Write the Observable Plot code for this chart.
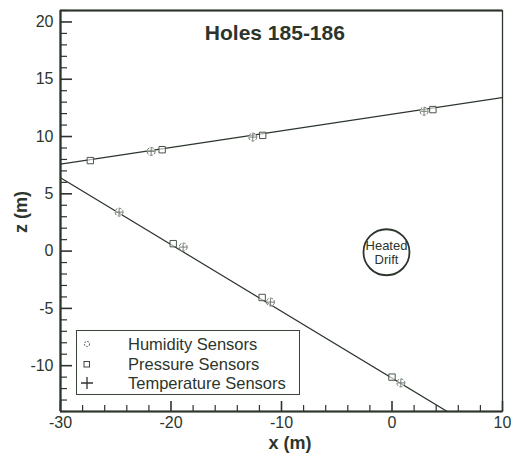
<!DOCTYPE html>
<html>
<head>
<meta charset="utf-8">
<script src="https://cdn.jsdelivr.net/npm/d3@7"></script>
<script src="https://cdn.jsdelivr.net/npm/@observablehq/plot@0.6"></script>
<style>
  html, body { margin: 0; padding: 0; background: #fff; }
  #wrap { position: relative; width: 511px; height: 457px; font-family: "Liberation Sans", Arial, Helvetica, sans-serif; color: #2c352c; }
  #wrap svg { position: absolute; left: 0; top: 0; }
  .lbl { position: absolute; font-weight: bold; font-size: 18px; white-space: nowrap; }
  #legend { position: absolute; left: 76px; top: 330px; width: 224px; height: 65px; border: 1px solid #3a453a; box-sizing: border-box; }
  .row { position: absolute; left: 0; height: 20px; width: 100%; }
  .row span { position: absolute; left: 51px; top: 0; font-size: 16.5px; line-height: 20px; }
  .row svg { position: absolute; left: 12px; top: 0; }
</style>
</head>
<body>
<div id="wrap"></div>
<script>
// ---- data ----
const xTicks = [-30, -20, -10, 0, 10];
const xMinor = [-28, -26, -24, -22, -18, -16, -14, -12, -8, -6, -4, -2, 2, 4, 6, 8];
const yTicks = [-10, -5, 0, 5, 10, 15, 20];
const yMinor = [-14, -13, -12, -11, -9, -8, -7, -6, -4, -3, -2, -1, 1, 2, 3, 4, 6, 7, 8, 9, 11, 12, 13, 14, 16, 17, 18, 19, 21];

// upper borehole line (x, z)
const upperLineX = [-30, 10];
const upperLineZ = [7.6, 13.4];
// lower borehole line
const lowerLineX = [-30, 5.0];
const lowerLineZ = [6.4, -14];

// sensors
const humidityX = [-21.8, -12.6, 2.9, -24.7, -18.9, -11.0, 0.8];
const humidityZ = [8.7, 9.95, 12.2, 3.4, 0.35, -4.45, -11.5];
const pressureX = [-27.3, -20.8, -11.7, 3.7, -19.8, -11.75, 0.0];
const pressureZ = [7.9, 8.85, 10.1, 12.35, 0.65, -4.05, -11.0];
const temperatureX = humidityX;
const temperatureZ = humidityZ;

const driftX = [-0.5];
const driftZ = [-0.1];
const driftLabel = ["Heated\nDrift"];

const titleText = "Holes 185-186";
const titleX = -10.6, titleZ = 19.0;

const legendLabels = ["Humidity Sensors", "Pressure Sensors", "Temperature Sensors"];

// ---- build ----
const ink = "#2c352c";
const toPts = (xs, zs) => xs.map((x, i) => ({x, z: zs[i]}));
const upper = toPts(upperLineX, upperLineZ);
const lower = toPts(lowerLineX, lowerLineZ);
const hum = toPts(humidityX, humidityZ);
const pres = toPts(pressureX, pressureZ);
const temp = toPts(temperatureX, temperatureZ);
const drift = driftX.map((x, i) => ({x, z: driftZ[i], t: driftLabel[i]}));
const fmt = d => String(d);

const chart = Plot.plot({
  width: 511,
  height: 457,
  marginLeft: 60,
  marginRight: 9,
  marginTop: 10,
  marginBottom: 46,
  style: {fontFamily: '"Liberation Sans", Arial, sans-serif', color: ink, background: "transparent", overflow: "visible"},
  x: {domain: [-30, 10]},
  y: {domain: [-14, 21]},
  marks: [
    Plot.frame({stroke: ink, strokeWidth: 1.3}),
    Plot.ruleX([-30], {stroke: ink, strokeWidth: 2.2}),
    Plot.ruleY([-14], {stroke: ink, strokeWidth: 2.2}),
    Plot.ruleY([21], {stroke: ink, strokeWidth: 2}),
    // ticks (inward)
    Plot.axisY({ticks: yTicks, tickSize: -12, fill: "none", stroke: ink, strokeWidth: 1.6, label: null}),
    Plot.axisY({ticks: yMinor, tickSize: -7, fill: "none", stroke: ink, strokeWidth: 1.2, label: null}),
    Plot.axisY({ticks: yTicks, tickSize: 0, tickPadding: 7, tickFormat: fmt, stroke: "none", fill: ink, fontSize: 16, label: null}),
    Plot.axisX({ticks: xTicks, tickSize: -10, fill: "none", stroke: ink, strokeWidth: 1.6, label: null}),
    Plot.axisX({ticks: xMinor, tickSize: -6, fill: "none", stroke: ink, strokeWidth: 1.2, label: null}),
    Plot.axisX({ticks: xTicks, tickSize: 0, tickPadding: 5, tickFormat: fmt, stroke: "none", fill: ink, fontSize: 16, label: null}),
    // borehole lines
    Plot.line(upper, {x: "x", y: "z", stroke: ink, strokeWidth: 1.3, clip: true}),
    Plot.line(lower, {x: "x", y: "z", stroke: ink, strokeWidth: 1.3, clip: true}),
    // sensors
    Plot.dot(hum, {x: "x", y: "z", symbol: "circle", r: 4, stroke: "#6a736a", strokeWidth: 1, fill: "white", fillOpacity: 0.6, strokeDasharray: "3,1.5"}),
    Plot.dot(temp, {x: "x", y: "z", symbol: "plus", r: 2.5, stroke: "#6a736a", strokeWidth: 0.9}),
    Plot.dot(pres, {x: "x", y: "z", symbol: "square", r: 3.6, stroke: "#4a544a", strokeWidth: 1, fill: "white", fillOpacity: 0.6}),
    // heated drift
    Plot.dot(drift, {x: "x", y: "z", r: 23, stroke: ink, strokeWidth: 1.8}),
    Plot.text(drift, {x: "x", y: "z", text: "t", fontSize: 13, lineHeight: 1.15, fill: ink}),
    // title
    Plot.text([titleText], {x: () => titleX, y: () => titleZ, text: d => d, fontSize: 21, fontWeight: "bold", fill: ink})
  ]
});

const wrap = document.getElementById("wrap");
wrap.appendChild(chart);

// axis labels
const xl = document.createElement("div");
xl.className = "lbl"; xl.textContent = "x (m)";
xl.style.left = "290px"; xl.style.top = "443px"; xl.style.transform = "translate(-50%,-50%)";
wrap.appendChild(xl);
const yl = document.createElement("div");
yl.className = "lbl"; yl.textContent = "z (m)";
yl.style.left = "21px"; yl.style.top = "212px"; yl.style.transform = "translate(-50%,-50%) rotate(-90deg)";
wrap.appendChild(yl);

// legend
const leg = document.createElement("div");
leg.id = "legend";
const markers = [
  '<svg width="20" height="20"><circle cx="10" cy="10" r="2.6" fill="none" stroke="#666" stroke-width="1" stroke-dasharray="2,1"/></svg>',
  '<svg width="20" height="20"><rect x="7" y="7.5" width="5.5" height="5.5" fill="none" stroke="#444" stroke-width="1"/></svg>',
  '<svg width="20" height="20"><path d="M10,4V16M4,10H16" stroke="#333" stroke-width="1.3"/></svg>'
];
legendLabels.forEach((t, i) => {
  const r = document.createElement("div");
  r.className = "row";
  r.style.top = (3 + i * 19.5) + "px";
  r.innerHTML = markers[i] + "<span>" + t + "</span>";
  leg.appendChild(r);
});
wrap.appendChild(leg);
</script>
</body>
</html>
